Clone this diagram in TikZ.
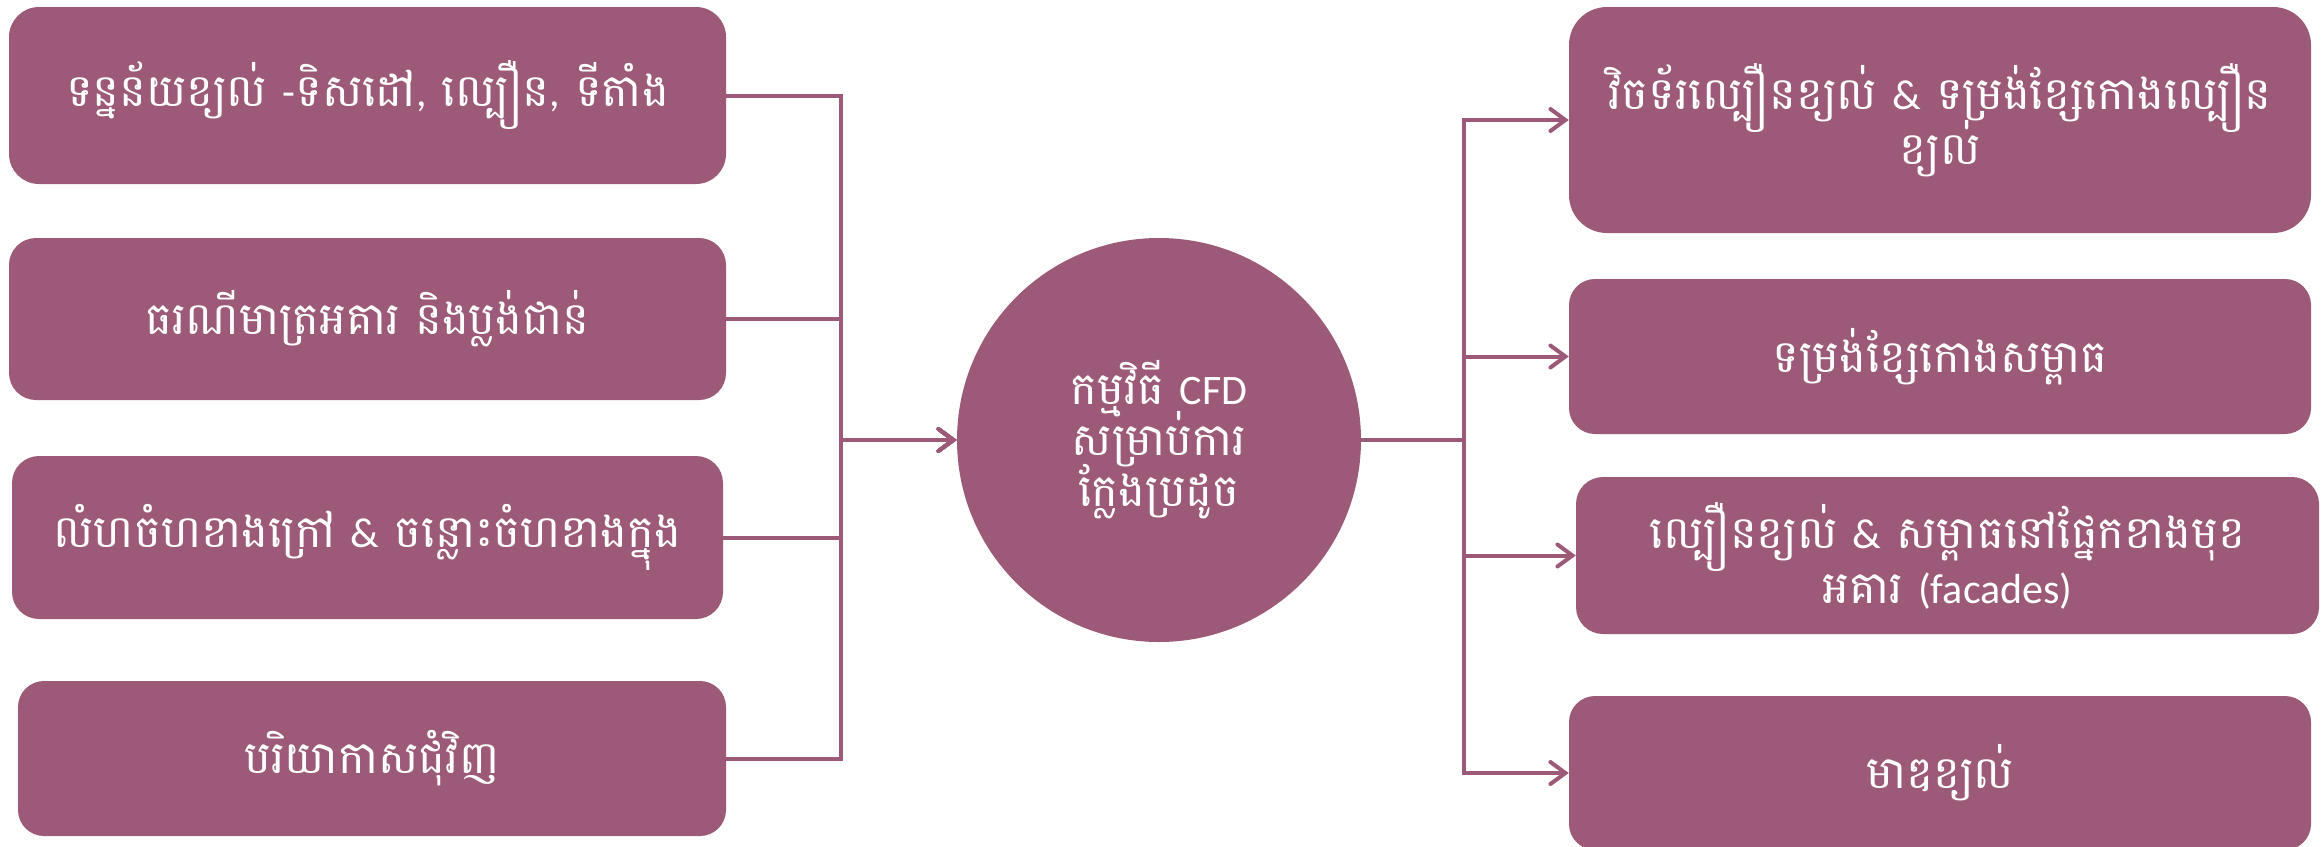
\documentclass[tikz,border=0pt]{standalone}
\usepackage{fontspec}
\setmainfont{Carlito}
\newfontfamily\kh[Script=Khmer]{Battambang}
\newcommand\latn[1]{{\rmfamily\fontsize{42}{52}\selectfont #1}}
\newcommand\tightlines{\lineskiplimit=-100pt\relax\lineskip=0pt\relax}
\usetikzlibrary{arrows.meta}
\definecolor{plum}{HTML}{9C5A78}
\begin{document}
\begin{tikzpicture}[x=1pt,y=-1pt,
  box/.style={fill=plum, text=white, inner sep=0pt, align=center,
    font=\kh\fontsize{45}{55}\selectfont\tightlines},
  circ/.style={circle, fill=plum, text=white, inner sep=0pt, align=center,
    minimum size=404pt, font=\kh\fontsize{45}{51}\selectfont\tightlines},
  conn/.style={draw=plum, line width=4pt},
  tip/.style={-{Straight Barb[length=15pt,width=22pt,line cap=round]}}]
\useasboundingbox (0,0) rectangle (2323,846);
% left boxes
\node[box, minimum width=717pt, minimum height=177pt, rounded corners=30pt] (l1) at (367.5,95.5)
  {ទន្នន័យខ្យល់ \latn{-}ទិសដៅ\latn{,} ល្បឿន\latn{,} ទីតាំង};
\node[box, minimum width=717pt, minimum height=162pt, rounded corners=27pt] (l2) at (367.5,319)
  {ធរណីមាត្រអគារ និងប្លង់ជាន់};
\node[box, minimum width=711pt, minimum height=163pt, rounded corners=27pt] (l3) at (367.5,537.5)
  {លំហចំហខាងក្រៅ \latn{\&} ចន្លោះចំហខាងក្នុង};
\node[box, minimum width=708pt, minimum height=155pt, rounded corners=26pt] (l4) at (372,758.5)
  {បរិយាកាសជុំវិញ};
% centre
\node[circ] (c) at (1159,440)
  {កម្មវិធី \latn{CFD}\\សម្រាប់ការ\\ក្លែងប្រដូច};
% right boxes
\node[box, minimum width=742pt, minimum height=226pt, rounded corners=38pt] (r1) at (1940,120)
  {វិចទ័រល្បឿនខ្យល់ \latn{\&} ទម្រង់ខ្សែកោងល្បឿន\\ខ្យល់};
\node[box, minimum width=742pt, minimum height=155pt, rounded corners=26pt] (r2) at (1940,356.5)
  {ទម្រង់ខ្សែកោងសម្ពាធ};
\node[box, minimum width=743pt, minimum height=157pt, rounded corners=27pt] (r3) at (1947.5,555.5)
  {ល្បឿនខ្យល់ \latn{\&} សម្ពាធនៅផ្នែកខាងមុខ\\អគារ \latn{(facades)}};
\node[box, minimum width=742pt, minimum height=154pt, rounded corners=26pt] (r4) at (1940,773)
  {មាឌខ្យល់};
% junctions
\coordinate (lj) at (841,440);
\coordinate (rj) at (1464,440);
% connectors
\foreach \n in {l1,l2,l3,l4}
  \draw[conn,tip] (\n.east) -| (lj) -- (c.west);
\foreach \n in {r1,r2,r3,r4}
  \draw[conn,tip] (c.east) -- (rj) |- (\n.west);
\end{tikzpicture}
\end{document}
